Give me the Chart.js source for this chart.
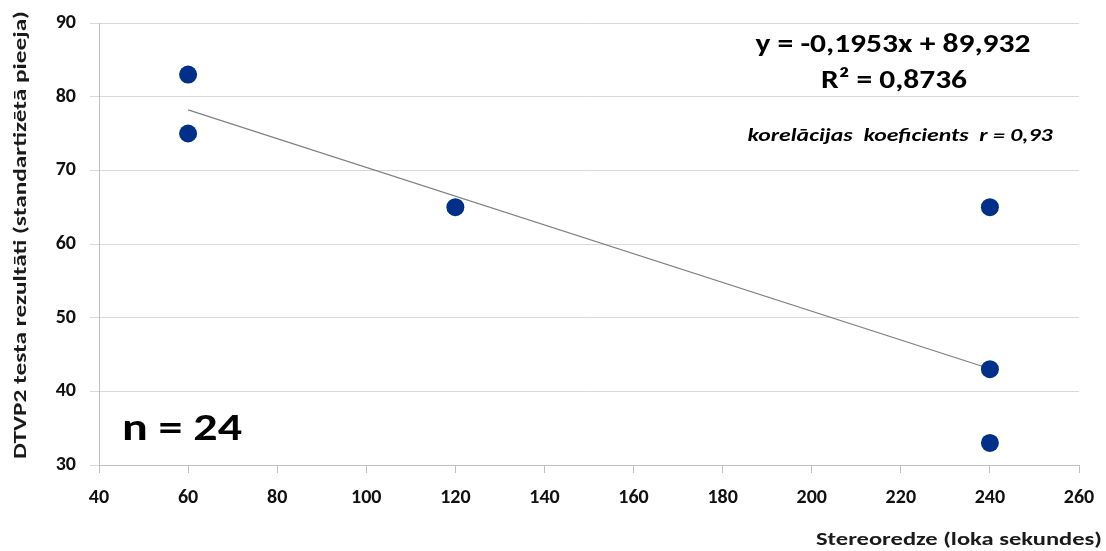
<!DOCTYPE html>
<html>
<head>
<meta charset="utf-8">
<script src="https://cdn.jsdelivr.net/npm/chart.js@4"></script>
<style>
html,body{margin:0;padding:0;background:#fff;}
#wrap{width:1106px;height:551px;position:relative;}
</style>
</head>
<body>
<div id="wrap"><canvas id="c" width="1106" height="551"></canvas></div>
<script>
// Data
const pointsX = [60, 60, 120, 240, 240, 240];
const pointsY = [83, 75, 65, 65, 43, 33];
const trendX = [60, 240];
const trendY = [78.21, 43.06];
const xTicks = [40, 60, 80, 100, 120, 140, 160, 180, 200, 220, 240, 260];
const yTicks = [30, 40, 50, 60, 70, 80, 90];
const equationText = 'y = -0,1953x + 89,932';
const r2Text = 'R² = 0,8736';
const corrText = 'korelācijas  koeficients  r = 0,93';
const nText = 'n = 24';
const xTitle = 'Stereoredze (loka sekundes)';
const yTitle = 'DTVP2 testa rezultāti (standartizētā pieeja)';

const FONT = 'Carlito, Calibri, Lato, "Open Sans", sans-serif';

function fitText(ctx, text, x, y, targetW, align) {
  const w = ctx.measureText(text).width;
  const s = targetW / w;
  ctx.save();
  ctx.translate(x, y);
  ctx.scale(s, 1);
  ctx.textAlign = align;
  ctx.fillText(text, 0, 0);
  ctx.restore();
}

const textPlugin = {
  id: 'texts',
  afterDraw(chart) {
    const ctx = chart.ctx;
    ctx.save();
    ctx.fillStyle = '#000';
    ctx.textBaseline = 'middle';
    ctx.font = 'bold 26px ' + FONT;
    fitText(ctx, equationText, 893, 45, 275, 'center');
    fitText(ctx, r2Text, 894, 81, 146, 'center');
    ctx.font = 'italic bold 18px ' + FONT;
    fitText(ctx, corrText, 900, 136, 305, 'center');
    ctx.font = 'bold 38px ' + FONT;
    fitText(ctx, nText, 122, 430, 120, 'left');
    ctx.fillStyle = '#1a1a1a';
    ctx.font = 'bold 19px ' + FONT;
    fitText(ctx, xTitle, 1102, 540, 286, 'right');
    ctx.save();
    ctx.translate(21, 235);
    ctx.rotate(-Math.PI / 2);
    fitText(ctx, yTitle, 0, 0, 448, 'center');
    ctx.restore();
    ctx.restore();
  }
};

new Chart(document.getElementById('c'), {
  type: 'scatter',
  data: {
    datasets: [
      {
        type: 'line',
        data: trendX.map((x, i) => ({x: x, y: trendY[i]})),
        borderColor: '#808080',
        borderWidth: 1.2,
        pointRadius: 0,
        fill: false,
        order: 2
      },
      {
        data: pointsX.map((x, i) => ({x: x, y: pointsY[i]})),
        backgroundColor: '#00308a',
        borderColor: '#00308a',
        pointRadius: 9,
        pointBorderWidth: 0,
        order: 1
      }
    ]
  },
  options: {
    responsive: false,
    animation: false,
    layout: {padding: {top: 23, right: 27, left: 0, bottom: 0}},
    plugins: {legend: {display: false}, tooltip: {enabled: false}},
    scales: {
      x: {
        type: 'linear',
        min: 40, max: 260,
        afterBuildTicks: (s) => { s.ticks = xTicks.map(v => ({value: v})); },
        afterFit: (s) => { s.height = 86; s.paddingLeft = 0; s.paddingRight = 0; },
        grid: {display: true, drawOnChartArea: false, drawTicks: true, tickLength: 8, color: '#bfbfbf'},
        border: {display: true, color: '#bfbfbf', width: 1},
        ticks: {color: '#111', font: {family: FONT, size: 20, weight: 'bold'}, padding: 13, maxRotation: 0, autoSkip: false}
      },
      y: {
        min: 30, max: 90,
        afterBuildTicks: (s) => { s.ticks = yTicks.map(v => ({value: v})); },
        afterFit: (s) => { s.width = 99; s.paddingTop = 0; s.paddingBottom = 0; },
        grid: {display: true, drawOnChartArea: true, drawTicks: true, tickLength: 9, color: '#d9d9d9'},
        border: {display: true, color: '#bfbfbf', width: 1},
        ticks: {color: '#111', font: {family: FONT, size: 20, weight: 'bold'}, padding: 14}
      }
    }
  },
  plugins: [textPlugin]
});
</script>
</body>
</html>
